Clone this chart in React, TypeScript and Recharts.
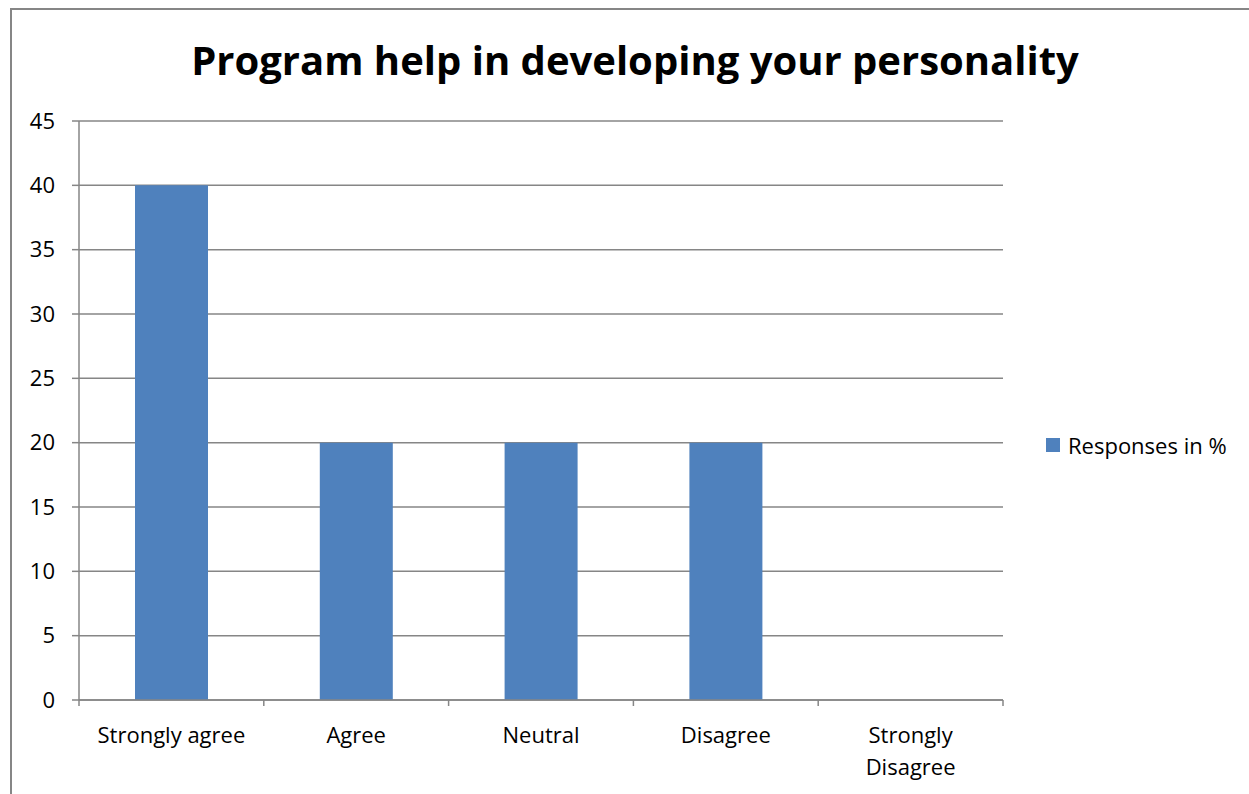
import React from "react";
import {
  BarChart,
  Bar,
  XAxis,
  YAxis,
  CartesianGrid,
  Legend,
} from "recharts";

// Chart data
const categories = ["Strongly agree", "Agree", "Neutral", "Disagree", "Strongly Disagree"];
const responses = [40, 20, 20, 20, 0];
const yTicks = [0, 5, 10, 15, 20, 25, 30, 35, 40, 45];

const seriesName = "Responses in %";
const BAR_COLOR = "#4F81BD";
const GRID_COLOR = "#868686";
const FONT = "'Open Sans', 'Liberation Sans', sans-serif";

const chartData = categories.map((c, i) => ({ name: c, value: responses[i] }));

// break a label into lines of at most maxChars characters
function wrapLabel(label: string, maxChars: number = 15): string[] {
  const lines: string[] = [];
  let cur = "";
  label.split(" ").forEach((w) => {
    const next = cur ? cur + " " + w : w;
    if (next.length > maxChars && cur) {
      lines.push(cur);
      cur = w;
    } else {
      cur = next;
    }
  });
  if (cur) lines.push(cur);
  return lines;
}

// X tick: label plus the Excel-style tick marks between categories
const XTick = (props: any) => {
  const { x, y, payload, index, visibleTicksCount } = props;
  const half = payload?.offset ?? 92.5;
  const isLast = index === visibleTicksCount - 1;
  const lines = wrapLabel(String(payload.value));
  return (
    <g>
      <line x1={x - half} x2={x - half} y1={y - 6} y2={y} stroke={GRID_COLOR} strokeWidth={1.5} />
      {isLast && (
        <line x1={x + half} x2={x + half} y1={y - 6} y2={y} stroke={GRID_COLOR} strokeWidth={1.5} />
      )}
      <text x={x} y={y + 37} textAnchor="middle" fontSize={22} fontFamily={FONT} fill="#000">
        {lines.map((l, i) => (
          <tspan key={i} x={x} dy={i === 0 ? 0 : 32}>
            {l}
          </tspan>
        ))}
      </text>
    </g>
  );
};

const renderLegend = () => (
  <div style={{ display: "flex", alignItems: "center", fontFamily: FONT, fontSize: 22, color: "#000" }}>
    <span style={{ width: 14, height: 14, background: BAR_COLOR, display: "inline-block", marginRight: 8 }} />
    <span>{seriesName}</span>
  </div>
);

export default function App() {
  return (
    <div
      style={{
        position: "absolute",
        left: 0,
        top: 0,
        width: 1249,
        height: 794,
        overflow: "hidden",
        background: "#fff",
        fontFamily: FONT,
      }}
    >
      <div
        style={{
          position: "absolute",
          left: 10,
          top: 8,
          width: 1300,
          height: 900,
          border: `2px solid ${GRID_COLOR}`,
        }}
      />
      <div
        style={{
          position: "absolute",
          left: 0,
          top: 30,
          width: 1270,
          textAlign: "center",
          fontSize: 40,
          fontWeight: 700,
          color: "#000",
          lineHeight: "60px",
        }}
      >
        Program help in developing your personality
      </div>
      <div style={{ position: "absolute", left: 0, top: 0 }}>
        <BarChart
          width={1249}
          height={794}
          data={chartData}
          margin={{ top: 121, right: 246, bottom: 0, left: 0 }}
        >
          <CartesianGrid vertical={false} stroke={GRID_COLOR} strokeWidth={1.5} />
          <XAxis
            dataKey="name"
            interval={0}
            height={94}
            tickLine={false}
            tickSize={6}
            tickMargin={0}
            axisLine={{ stroke: GRID_COLOR, strokeWidth: 1.5 }}
            tick={<XTick />}
          />
          <YAxis
            width={79}
            domain={[0, 45]}
            ticks={yTicks}
            interval={0}
            tickSize={7}
            tickMargin={17}
            axisLine={{ stroke: GRID_COLOR, strokeWidth: 1.5 }}
            tickLine={{ stroke: GRID_COLOR, strokeWidth: 1.5 }}
            tick={{ fill: "#000", fontSize: 22, fontFamily: FONT }}
          />
          <Legend
            layout="horizontal"
            align="center"
            verticalAlign="middle"
            content={renderLegend}
            wrapperStyle={{ left: 1046, top: 430, width: 200 }}
          />
          <Bar dataKey="value" name={seriesName} fill={BAR_COLOR} barSize={73} isAnimationActive={false} />
        </BarChart>
      </div>
    </div>
  );
}
